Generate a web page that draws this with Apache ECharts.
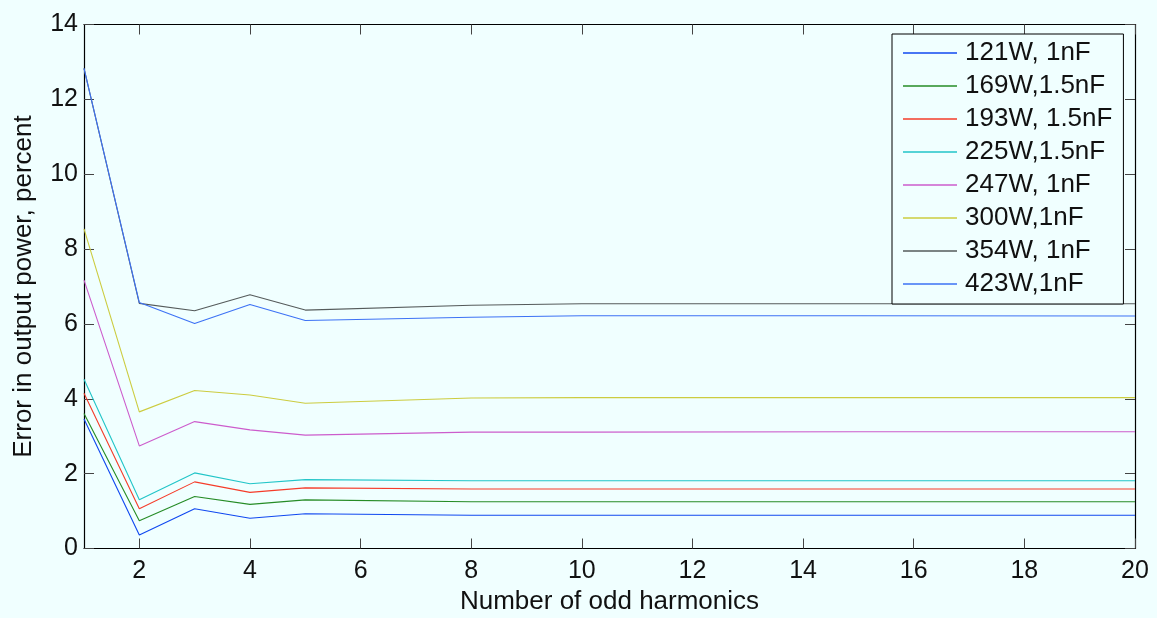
<!DOCTYPE html>
<html>
<head>
<meta charset="utf-8">
<script src="https://cdn.jsdelivr.net/npm/echarts@6/dist/echarts.min.js"></script>
<style>
html,body{margin:0;padding:0;background:#f0ffff;}
#chart{width:1157px;height:618px;}
</style>
</head>
<body>
<div id="chart"></div>
<script>
var harmonics = [1, 2, 3, 4, 5, 8, 10, 15, 20];
var seriesNames = ['121W, 1nF', '169W,1.5nF', '193W, 1.5nF', '225W,1.5nF', '247W, 1nF', '300W,1nF', '354W, 1nF', '423W,1nF'];
var s121 = [3.46, 0.36, 1.06, 0.81, 0.93, 0.89, 0.89, 0.89, 0.89];
var s169 = [3.61, 0.74, 1.39, 1.18, 1.30, 1.25, 1.25, 1.25, 1.25];
var s193 = [4.15, 1.06, 1.78, 1.50, 1.62, 1.59, 1.59, 1.59, 1.59];
var s225 = [4.52, 1.30, 2.02, 1.73, 1.84, 1.81, 1.81, 1.81, 1.81];
var s247 = [7.17, 2.74, 3.39, 3.17, 3.03, 3.11, 3.11, 3.12, 3.12];
var s300 = [8.54, 3.65, 4.22, 4.10, 3.88, 4.02, 4.03, 4.03, 4.03];
var s354 = [12.83, 6.55, 6.35, 6.78, 6.37, 6.50, 6.54, 6.54, 6.54];
var s423 = [12.83, 6.57, 6.01, 6.52, 6.09, 6.18, 6.22, 6.22, 6.21];
var xTicks = [2, 4, 6, 8, 10, 12, 14, 16, 18, 20];
var yTicks = [0, 2, 4, 6, 8, 10, 12, 14];
var colors = ['#1048f0', '#268c26', '#f53c2a', '#22c5c8', '#cc5ccc', '#cccc40', '#555b5b', '#3d72f5'];

var allData = [s121, s169, s193, s225, s247, s300, s354, s423];
var FONT = 'Liberation Sans';

var series = allData.map(function (vals, i) {
  return {
    name: seriesNames[i],
    type: 'line',
    data: harmonics.map(function (h, j) { return [h, vals[j]]; }),
    symbol: 'none',
    showSymbol: false,
    lineStyle: { color: colors[i], width: 1.1 },
    itemStyle: { color: colors[i] },
    animation: false
  };
});

var chart = echarts.init(document.getElementById('chart'), null, { renderer: 'canvas' });
chart.setOption({
  backgroundColor: '#f0ffff',
  animation: false,
  textStyle: { fontFamily: FONT },
  grid: { left: 84, right: 22, top: 24.5, bottom: 69.5, show: false, containLabel: false, outerBoundsMode: 'none' },
  legend: {
    orient: 'vertical',
    left: 892,
    top: 34,
    padding: [4, 11, 5, 11],
    icon: 'rect',
    itemWidth: 54,
    itemHeight: 1.6,
    itemGap: 3,
    backgroundColor: '#f0ffff',
    borderColor: '#000',
    borderWidth: 1,
    borderRadius: 0,
    data: seriesNames,
    textStyle: { fontFamily: FONT, fontSize: 26, color: '#111', lineHeight: 30, padding: [0, 0, 0, 3] }
  },
  xAxis: [{
    type: 'value', min: 1, max: 20, position: 'bottom',
    name: 'Number of odd harmonics', nameLocation: 'middle', nameGap: 36,
    nameTextStyle: { fontFamily: FONT, fontSize: 26, color: '#111' },
    axisLine: { show: true, onZero: false, lineStyle: { color: '#000', width: 1.2 } },
    axisTick: { show: true, inside: true, length: 10, customValues: xTicks, lineStyle: { color: '#444' } },
    axisLabel: { show: true, customValues: xTicks, fontFamily: FONT, fontSize: 25, color: '#111', margin: 10 },
    splitLine: { show: false }
  }, {
    type: 'value', min: 1, max: 20, position: 'top',
    axisLine: { show: true, onZero: false, lineStyle: { color: '#000', width: 1.2 } },
    axisTick: { show: true, inside: true, length: 10, customValues: xTicks, lineStyle: { color: '#444' } },
    axisLabel: { show: false },
    splitLine: { show: false }
  }],
  yAxis: [{
    type: 'value', min: 0, max: 14, interval: 2, position: 'left',
    name: 'Error in output power, percent', nameLocation: 'middle', nameGap: 47,
    nameTextStyle: { fontFamily: FONT, fontSize: 26, color: '#111' },
    axisLine: { show: true, onZero: false, lineStyle: { color: '#000', width: 1.2 } },
    axisTick: { show: true, inside: true, length: 10, lineStyle: { color: '#444' } },
    axisLabel: { show: true, customValues: yTicks, fontFamily: FONT, fontSize: 25, color: '#111', margin: 6 },
    splitLine: { show: false }
  }, {
    type: 'value', min: 0, max: 14, interval: 2, position: 'right',
    axisLine: { show: true, onZero: false, lineStyle: { color: '#000', width: 1.2 } },
    axisTick: { show: true, inside: true, length: 10, lineStyle: { color: '#444' } },
    axisLabel: { show: false },
    splitLine: { show: false }
  }],
  series: series
});
</script>
</body>
</html>
